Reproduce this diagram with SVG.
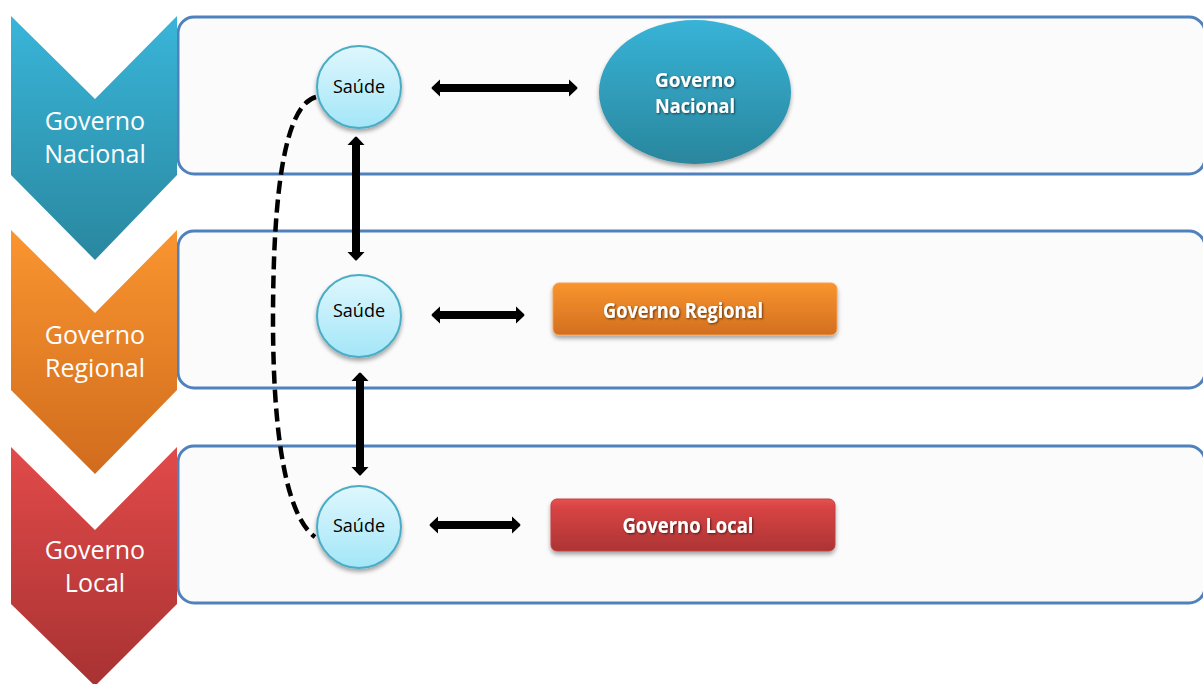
<svg xmlns="http://www.w3.org/2000/svg" width="1203" height="684" viewBox="0 0 1203 684">
<style>
.lane{fill:#fbfbfb;stroke:#4f81bd;stroke-width:3}
.chev-t{font-family:"Open Sans","Liberation Sans",sans-serif;font-size:25px;fill:#ffffff;text-anchor:middle}
.saude{fill:url(#gCirc);stroke:#4bacc6;stroke-width:2}
.saude-t{font-family:"Open Sans","Liberation Sans",sans-serif;font-size:18px;fill:#000;text-anchor:middle}
.bold-t{font-family:"Open Sans","Liberation Sans",sans-serif;font-weight:700;fill:#fff;text-anchor:middle}
.arr{stroke:#000;stroke-width:8;fill:none}
.dash{stroke:#000;stroke-width:4.5;fill:none;stroke-dasharray:13 6}
</style>
<defs>
<linearGradient id="gBlue" x1="0" y1="0" x2="0" y2="1"><stop offset="0" stop-color="#39b5d9"/><stop offset="1" stop-color="#2a879f"/></linearGradient>
<linearGradient id="gOrange" x1="0" y1="0" x2="0" y2="1"><stop offset="0" stop-color="#fa9530"/><stop offset="1" stop-color="#d06c1d"/></linearGradient>
<linearGradient id="gRed" x1="0" y1="0" x2="0" y2="1"><stop offset="0" stop-color="#e24a4a"/><stop offset="1" stop-color="#a83232"/></linearGradient>
<linearGradient id="gEll" x1="0" y1="0" x2="0" y2="1"><stop offset="0" stop-color="#38b3d7"/><stop offset="1" stop-color="#29869d"/></linearGradient>
<linearGradient id="gOBox" x1="0" y1="0" x2="0" y2="1"><stop offset="0" stop-color="#f9942e"/><stop offset="1" stop-color="#d26f1f"/></linearGradient>
<linearGradient id="gRBox" x1="0" y1="0" x2="0" y2="1"><stop offset="0" stop-color="#e65252"/><stop offset="0.15" stop-color="#d94444"/><stop offset="1" stop-color="#ad3434"/></linearGradient>
<linearGradient id="gCirc" x1="0" y1="0" x2="0" y2="1"><stop offset="0" stop-color="#dff7fd"/><stop offset="1" stop-color="#a3e6f8"/></linearGradient>
<filter id="sh" x="-20%" y="-20%" width="140%" height="150%"><feDropShadow dx="0" dy="3" stdDeviation="2" flood-color="#000" flood-opacity="0.35"/></filter>
<filter id="tsh" x="-10%" y="-30%" width="120%" height="160%"><feDropShadow dx="1" dy="1" stdDeviation="0.8" flood-color="#000" flood-opacity="0.6"/></filter>
<marker id="ah" markerUnits="userSpaceOnUse" markerWidth="10" markerHeight="18" refX="0" refY="9" orient="auto-start-reverse" viewBox="0 0 10 18"><path d="M0,0.5 L8,8 Q9,9 8,10 L0,17.5 z" fill="#000"/></marker>
</defs>

<g id="lanes">
<rect class="lane" x="178" y="17" width="1027" height="157" rx="16"/>
<rect class="lane" x="178" y="231" width="1027" height="157" rx="16"/>
<rect class="lane" x="178" y="446" width="1027" height="157" rx="16"/>
</g>

<g id="chevron-nacional">
<polygon points="11,16 95,99 177,16 177,175 95,260 11,175" fill="url(#gBlue)"/>
<text class="chev-t" x="95" y="130">Governo</text>
<text class="chev-t" x="95" y="163">Nacional</text>
</g>
<g id="chevron-regional">
<polygon points="11,230 95,313 177,230 177,390 95,474 11,390" fill="url(#gOrange)"/>
<text class="chev-t" x="95" y="344">Governo</text>
<text class="chev-t" x="95" y="377">Regional</text>
</g>
<g id="chevron-local">
<polygon points="11,447 95,530 177,447 177,604 95,686 11,604" fill="url(#gRed)"/>
<text class="chev-t" x="95" y="559">Governo</text>
<text class="chev-t" x="95" y="592">Local</text>
</g>

<g id="connectors">
<path class="dash" d="M316,97 C285,105 273,190 273,320 C273,430 285,515 315,537"/>
<line class="arr" x1="356" y1="145" x2="356" y2="252" marker-start="url(#ah)" marker-end="url(#ah)"/>
<line class="arr" x1="360" y1="381" x2="360" y2="467" marker-start="url(#ah)" marker-end="url(#ah)"/>
<line class="arr" x1="440" y1="88" x2="569" y2="88" marker-start="url(#ah)" marker-end="url(#ah)"/>
<line class="arr" x1="440" y1="315" x2="516" y2="315" marker-start="url(#ah)" marker-end="url(#ah)"/>
<line class="arr" x1="438" y1="525" x2="512" y2="525" marker-start="url(#ah)" marker-end="url(#ah)"/>
</g>

<g id="saude-1">
<ellipse class="saude" cx="359" cy="87" rx="42" ry="41" filter="url(#sh)"/>
<text class="saude-t" x="359" y="93">Saúde</text>
</g>
<g id="saude-2">
<ellipse class="saude" cx="359" cy="316" rx="42" ry="41" filter="url(#sh)"/>
<text class="saude-t" x="359" y="317">Saúde</text>
</g>
<g id="saude-3">
<ellipse class="saude" cx="359" cy="527" rx="42" ry="41" filter="url(#sh)"/>
<text class="saude-t" x="359" y="532">Saúde</text>
</g>

<g id="governo-nacional">
<ellipse cx="695" cy="92" rx="96" ry="72" fill="url(#gEll)" filter="url(#sh)"/>
<text class="bold-t" x="695" y="87" font-size="20" textLength="80" lengthAdjust="spacingAndGlyphs" filter="url(#tsh)">Governo</text>
<text class="bold-t" x="695" y="113" font-size="20" textLength="80" lengthAdjust="spacingAndGlyphs" filter="url(#tsh)">Nacional</text>
</g>
<g id="governo-regional">
<rect x="553" y="283" width="284" height="52" rx="6" fill="url(#gOBox)" stroke="#f5a050" stroke-width="1" filter="url(#sh)"/>
<text class="bold-t" x="683" y="318" font-size="21" textLength="160" lengthAdjust="spacingAndGlyphs" filter="url(#tsh)">Governo Regional</text>
</g>
<g id="governo-local">
<rect x="551" y="499" width="284" height="52" rx="6" fill="url(#gRBox)" stroke="#c04040" stroke-width="1" filter="url(#sh)"/>
<text class="bold-t" x="688" y="533" font-size="21" textLength="131" lengthAdjust="spacingAndGlyphs" filter="url(#tsh)">Governo Local</text>
</g>
</svg>
